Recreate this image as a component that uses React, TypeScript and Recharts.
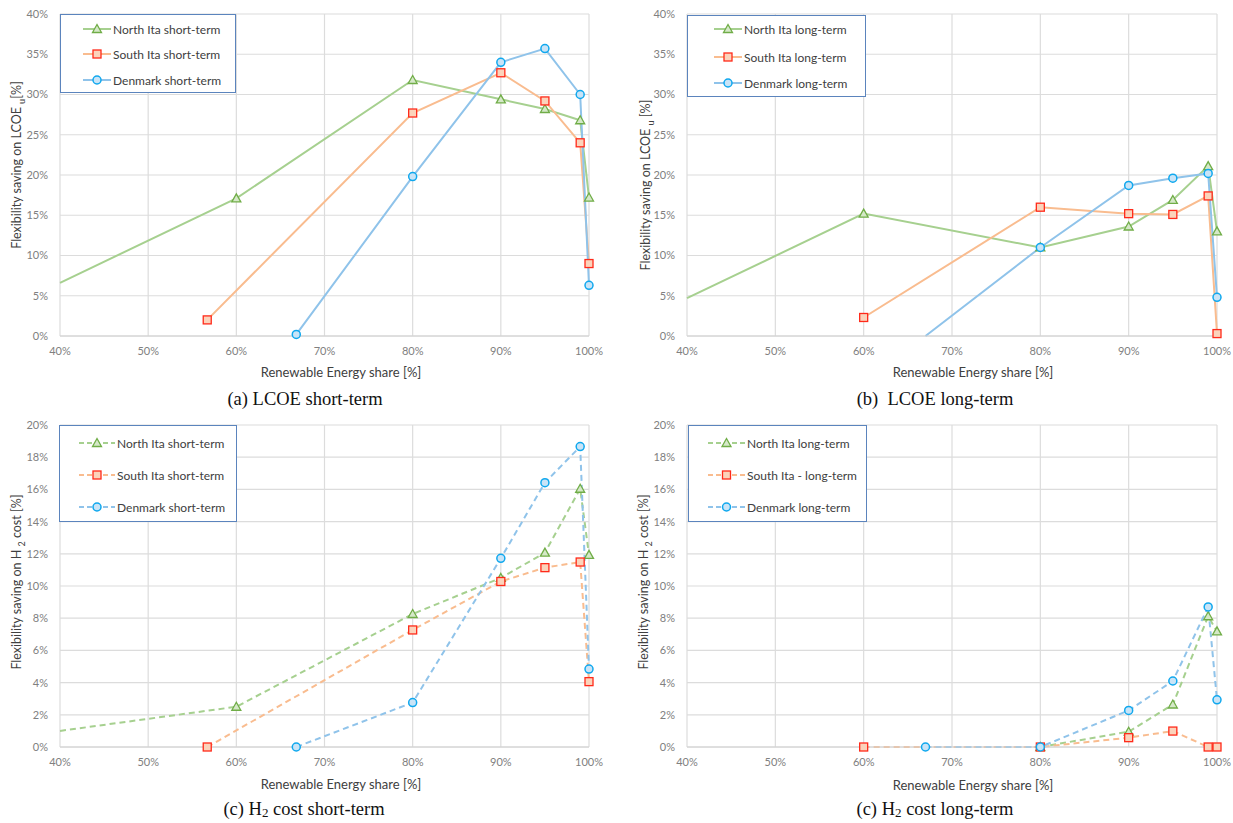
import React from "react";
import { CartesianGrid, Line, LineChart, XAxis, YAxis } from "recharts";

// x positions (renewable energy share, %)
const xNorth = [40, 60, 80, 90, 95, 99, 100];
const xSouth = [56.7, 80, 90, 95, 99, 100];
const xDenmark = [66.8, 80, 90, 95, 99, 100];
const xNorthLong = [40, 60, 80, 90, 95, 99, 100];
const xSouthLong = [60, 80, 90, 95, 99, 100];
const xDenmarkLong = [67, 80, 90, 95, 99, 100];
const xNorthH2Long = [80, 90, 95, 99, 100];
const xSouthH2Long = [60, 80, 90, 95, 99, 100];
const xDenmarkH2Long = [67, 80, 90, 95, 99, 100];

// (a) LCOE short-term
const lcoeShortNorth = [6.6, 17.1, 31.8, 29.4, 28.2, 26.8, 17.2];
const lcoeShortSouth = [2.0, 27.7, 32.7, 29.2, 24.0, 9.0];
const lcoeShortDenmark = [0.2, 19.8, 34.0, 35.7, 30.0, 6.3];
// (b) LCOE long-term
const lcoeLongNorth = [4.7, 15.2, 11.0, 13.6, 16.9, 21.1, 13.0];
const lcoeLongSouth = [2.3, 16.0, 15.2, 15.1, 17.4, 0.3];
const lcoeLongDenmark = [0, 11.0, 18.7, 19.6, 20.2, 4.8];
// (c) H2 cost short-term
const h2ShortNorth = [1.0, 2.5, 8.26, 10.5, 12.07, 16.04, 11.93];
const h2ShortSouth = [0, 7.27, 10.28, 11.14, 11.49, 4.06];
const h2ShortDenmark = [0, 2.76, 11.72, 16.42, 18.66, 4.84];
// (d) H2 cost long-term
const h2LongNorth = [0, 0.95, 2.64, 8.12, 7.18];
const h2LongSouth = [0, 0, 0.58, 0.99, 0, 0];
const h2LongDenmark = [0, 0, 2.27, 4.1, 8.7, 2.93];

const xTicks = [40, 50, 60, 70, 80, 90, 100];
const yTicksLcoe = [0, 5, 10, 15, 20, 25, 30, 35, 40];
const yTicksH2 = [0, 2, 4, 6, 8, 10, 12, 14, 16, 18, 20];

const GREEN = { line: "#a6d08f", edge: "#70ad47", fill: "#d5e8c8" };
const ORANGE = { line: "#f9bc8f", edge: "#ff2a1a", fill: "#fbd3bb" };
const BLUE = { line: "#8fc3ea", edge: "#10a8ee", fill: "#c9e4f7" };

type Marker = "triangle" | "square" | "circle";

function toRows(xs: number[], ys: number[], unmarkedFirst: boolean) {
  return xs.map((x, i) => ({ x, y: ys[i], hide: unmarkedFirst && i === 0 }));
}

function drawMarker(kind: Marker, cx: number, cy: number, c: typeof GREEN, key?: any) {
  if (kind === "triangle")
    return (
      <path key={key} d={`M${cx},${cy - 4.5}L${cx + 4.5},${cy + 3.5}L${cx - 4.5},${cy + 3.5}Z`} fill={c.fill} stroke={c.edge} strokeWidth={1.3} />
    );
  if (kind === "square")
    return <rect key={key} x={cx - 4} y={cy - 4} width={8} height={8} fill={c.fill} stroke={c.edge} strokeWidth={1.3} />;
  return <circle key={key} cx={cx} cy={cy} r={4} fill={c.fill} stroke={c.edge} strokeWidth={1.5} />;
}

function makeDot(kind: Marker, c: typeof GREEN) {
  return (props: any) => {
    const { cx, cy, payload, index } = props;
    if (payload.hide || cx == null || cy == null) return <g key={index} />;
    return drawMarker(kind, cx, cy, c, index);
  };
}

type Series = { name: string; rows: any[]; kind: Marker; c: typeof GREEN };

function Panel(props: {
  left: number;
  top: number;
  width: number;
  marginRight: number;
  yMax: number;
  yTicks: number[];
  dashed: boolean;
  series: Series[];
}) {
  const { left, top, width, marginRight, yMax, yTicks, dashed, series } = props;
  return (
    <div style={{ position: "absolute", left, top }}>
      <LineChart width={width} height={360} margin={{ top: 14, right: marginRight, bottom: 0, left: 20 }}>
        <CartesianGrid stroke="#dcdcdc" strokeWidth={1.2} />
        <XAxis
          dataKey="x"
          type="number"
          domain={[40, 100]}
          ticks={xTicks}
          height={24}
          tickSize={0}
          tickMargin={11}
          axisLine={{ stroke: "#d0d0d0" }}
          tickLine={false}
          tickFormatter={(v) => `${v}%`}
          tick={{ fill: "#808080", fontSize: 11, fontFamily: "Lato" }}
        />
        <YAxis
          type="number"
          domain={[0, yMax]}
          ticks={yTicks}
          width={40}
          tickSize={0}
          tickMargin={12}
          axisLine={false}
          tickLine={false}
          tickFormatter={(v) => `${v}%`}
          tick={{ fill: "#808080", fontSize: 11, fontFamily: "Lato" }}
        />
        {series.map((s) => (
          <Line
            key={s.name}
            data={s.rows}
            dataKey="y"
            name={s.name}
            type="linear"
            stroke={s.c.line}
            strokeWidth={2}
            strokeDasharray={dashed ? "6 4" : undefined}
            dot={makeDot(s.kind, s.c)}
            activeDot={false}
            isAnimationActive={false}
          />
        ))}
      </LineChart>
    </div>
  );
}

function LegendBox(props: {
  left: number;
  top: number;
  width: number;
  height: number;
  rowTops: number[];
  lineX: number;
  lineW: number;
  dashed: boolean;
  series: Series[];
}) {
  const { left, top, width, height, rowTops, lineX, lineW, dashed, series } = props;
  return (
    <div
      style={{
        position: "absolute",
        left,
        top,
        width,
        height,
        border: "1.3px solid #5b84bd",
        background: "#fff",
        boxSizing: "border-box",
      }}
    >
      {series.map((s, i) => (
        <div key={s.name} style={{ position: "absolute", left: 0, top: rowTops[i] - 8, height: 16, display: "flex", alignItems: "center" }}>
          <svg width={lineX + lineW} height={16} style={{ display: "block" }}>
            <line x1={lineX} x2={lineX + lineW} y1={8} y2={8} stroke={s.c.line} strokeWidth={2} strokeDasharray={dashed ? "5 3" : undefined} />
            {drawMarker(s.kind, lineX + lineW / 2, 8, s.c)}
          </svg>
          <span style={{ marginLeft: 2, fontFamily: "Lato", fontSize: 12, color: "#404040", whiteSpace: "nowrap" }}>{s.name}</span>
        </div>
      ))}
    </div>
  );
}

function Centered(props: { x: number; y: number; rotate?: boolean; style: React.CSSProperties; children: React.ReactNode }) {
  return (
    <div
      style={{
        position: "absolute",
        left: props.x,
        top: props.y,
        transform: `translate(-50%, -50%)${props.rotate ? " rotate(-90deg)" : ""}`,
        whiteSpace: "nowrap",
        ...props.style,
      }}
    >
      {props.children}
    </div>
  );
}

const axisTitle: React.CSSProperties = { fontFamily: "Lato", fontSize: 13, color: "#404040" };
const yTitle: React.CSSProperties = { fontFamily: "Lato", fontSize: 12.5, color: "#404040" };
const caption: React.CSSProperties = { fontFamily: "Liberation Serif", fontSize: 18.5, color: "#111" };

export default function App() {
  const a: Series[] = [
    { name: "North Ita short-term", rows: toRows(xNorth, lcoeShortNorth, true), kind: "triangle", c: GREEN },
    { name: "South Ita short-term", rows: toRows(xSouth, lcoeShortSouth, false), kind: "square", c: ORANGE },
    { name: "Denmark short-term", rows: toRows(xDenmark, lcoeShortDenmark, false), kind: "circle", c: BLUE },
  ];
  const b: Series[] = [
    { name: "North Ita long-term", rows: toRows(xNorthLong, lcoeLongNorth, true), kind: "triangle", c: GREEN },
    { name: "South Ita long-term", rows: toRows(xSouthLong, lcoeLongSouth, false), kind: "square", c: ORANGE },
    { name: "Denmark long-term", rows: toRows(xDenmarkLong, lcoeLongDenmark, true), kind: "circle", c: BLUE },
  ];
  const c: Series[] = [
    { name: "North Ita short-term", rows: toRows(xNorth, h2ShortNorth, true), kind: "triangle", c: GREEN },
    { name: "South Ita short-term", rows: toRows(xSouth, h2ShortSouth, false), kind: "square", c: ORANGE },
    { name: "Denmark short-term", rows: toRows(xDenmark, h2ShortDenmark, false), kind: "circle", c: BLUE },
  ];
  const d: Series[] = [
    { name: "North Ita long-term", rows: toRows(xNorthH2Long, h2LongNorth, false), kind: "triangle", c: GREEN },
    { name: "South Ita - long-term", rows: toRows(xSouthH2Long, h2LongSouth, false), kind: "square", c: ORANGE },
    { name: "Denmark long-term", rows: toRows(xDenmarkH2Long, h2LongDenmark, false), kind: "circle", c: BLUE },
  ];

  return (
    <div style={{ position: "absolute", left: 0, top: 0, width: 1233, height: 823, background: "#fff", overflow: "hidden" }}>
      <Panel left={0} top={0} width={620} marginRight={31} yMax={40} yTicks={yTicksLcoe} dashed={false} series={a} />
      <Panel left={627} top={0} width={606} marginRight={16} yMax={40} yTicks={yTicksLcoe} dashed={false} series={b} />
      <Panel left={0} top={411} width={620} marginRight={31} yMax={20} yTicks={yTicksH2} dashed series={c} />
      <Panel left={627} top={411} width={606} marginRight={16} yMax={20} yTicks={yTicksH2} dashed series={d} />

      <LegendBox left={60} top={14} width={176} height={79} rowTops={[14, 39, 65]} lineX={22} lineW={28} dashed={false} series={a} />
      <LegendBox left={687} top={15} width={179} height={82} rowTops={[13, 41, 67]} lineX={26} lineW={28} dashed={false} series={b} />
      <LegendBox left={59} top={425} width={178} height={97} rowTops={[17, 49, 81]} lineX={19} lineW={36} dashed series={c} />
      <LegendBox left={688} top={425} width={179} height={97} rowTops={[17, 49, 81]} lineX={19} lineW={37} dashed series={d} />

      <Centered x={18} y={165} rotate style={yTitle}>
        Flexibility saving on LCOE <sub style={{ fontSize: 9 }}>u</sub>[%]
      </Centered>
      <Centered x={647} y={185} rotate style={yTitle}>
        Flexibility saving on LCOE <sub style={{ fontSize: 9 }}>u</sub> [%]
      </Centered>
      <Centered x={18} y={582} rotate style={yTitle}>
        Flexibility saving on H <sub style={{ fontSize: 9 }}>2</sub> cost [%]
      </Centered>
      <Centered x={645} y={582} rotate style={yTitle}>
        Flexibility saving on H <sub style={{ fontSize: 9 }}>2</sub> cost [%]
      </Centered>

      <Centered x={341} y={372} style={axisTitle}>Renewable Energy share [%]</Centered>
      <Centered x={973} y={372} style={axisTitle}>Renewable Energy share [%]</Centered>
      <Centered x={341} y={784} style={axisTitle}>Renewable Energy share [%]</Centered>
      <Centered x={973} y={785} style={axisTitle}>Renewable Energy share [%]</Centered>

      <Centered x={305} y={399} style={caption}>(a) LCOE short-term</Centered>
      <Centered x={935} y={399} style={caption}>(b)&nbsp; LCOE long-term</Centered>
      <Centered x={304} y={810} style={caption}>
        (c) H<span style={{ fontSize: 13, verticalAlign: -2 }}>2</span> cost short-term
      </Centered>
      <Centered x={935} y={810} style={caption}>
        (c) H<span style={{ fontSize: 13, verticalAlign: -2 }}>2</span> cost long-term
      </Centered>
    </div>
  );
}
